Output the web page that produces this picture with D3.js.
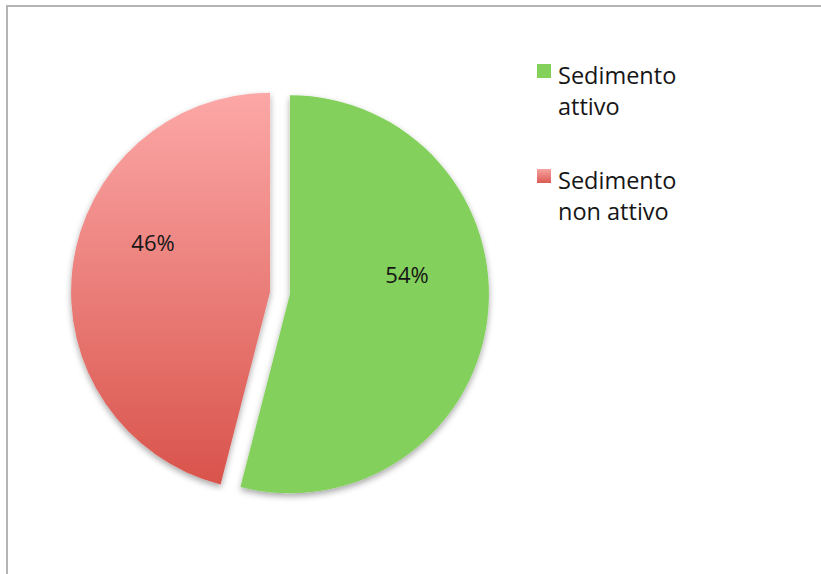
<!DOCTYPE html>
<html>
<head>
<meta charset="utf-8">
<script src="https://cdn.jsdelivr.net/npm/d3@7"></script>
<style>
  html, body { margin: 0; padding: 0; background: #fff; }
  svg { display: block; }
  text { font-family: "Open Sans", "Lato", sans-serif; fill: #161616; }
</style>
</head>
<body>
<svg id="chart" width="821" height="574"></svg>
<script>
// Data
const categories = ["Sedimento attivo", "Sedimento non attivo"];
const legendLines = [["Sedimento", "attivo"], ["Sedimento", "non attivo"]];
const values = [54, 46];
const valueLabels = ["54%", "46%"];

const W = 821, H = 574;
const svg = d3.select("#chart");
const defs = svg.append("defs");

// Frame
svg.append("path")
  .attr("d", `M7,${H} L7,6 L${W},6`)
  .attr("fill", "none")
  .attr("stroke", "#b4b4b4")
  .attr("stroke-width", 2);

// Shading under the slices
const shadow = defs.append("filter").attr("id", "shadow")
  .attr("x", "-20%").attr("y", "-20%").attr("width", "140%").attr("height", "140%");
shadow.append("feDropShadow")
  .attr("dx", 0).attr("dy", 3).attr("stdDeviation", 3)
  .attr("flood-color", "#000").attr("flood-opacity", 0.35);

const cx = 280, cy = 293, r = 199, explode = 10;

// Vertical gradient in the slice group's own coordinates
const redGrad = defs.append("linearGradient").attr("id", "redGrad")
  .attr("gradientUnits", "userSpaceOnUse")
  .attr("x1", 0).attr("y1", -r).attr("x2", 0).attr("y2", r);
redGrad.append("stop").attr("offset", "0%").attr("stop-color", "#fca8a7");
redGrad.append("stop").attr("offset", "100%").attr("stop-color", "#d8524a");

const legRed = defs.append("linearGradient").attr("id", "legRed")
  .attr("x1", 0).attr("y1", 0).attr("x2", 0).attr("y2", 1);
legRed.append("stop").attr("offset", "0%").attr("stop-color", "#f6a3a1");
legRed.append("stop").attr("offset", "100%").attr("stop-color", "#dc5a52");

const fills = ["#83d15b", "url(#redGrad)"];
const legendFills = ["#83d15b", "url(#legRed)"];

const pie = d3.pie().sort(null).value(d => d);
const arcs = pie(values);
const arc = d3.arc().innerRadius(0).outerRadius(r);
const labelR = 118, labelLift = 34;
const labelArc = d3.arc().innerRadius(labelR).outerRadius(labelR);

const offset = d => {
  const a = (d.startAngle + d.endAngle) / 2;
  return [explode * Math.sin(a), -explode * Math.cos(a)];
};

const slices = svg.append("g").attr("transform", `translate(${cx},${cy})`);

slices.selectAll("path.slice")
  .data(arcs)
  .join("path")
  .attr("class", "slice")
  .attr("d", arc)
  .attr("fill", (d, i) => fills[i])
  .attr("filter", "url(#shadow)")
  .attr("transform", d => `translate(${offset(d)})`);

slices.selectAll("text.val")
  .data(arcs)
  .join("text")
  .attr("class", "val")
  .attr("transform", d => {
    const [x, y] = labelArc.centroid(d);
    const [ox, oy] = offset(d);
    return `translate(${x + ox},${y + oy - labelLift})`;
  })
  .attr("text-anchor", "middle")
  .attr("dy", "0.36em")
  .attr("font-size", 22)
  .text((d, i) => valueLabels[i]);

// Legend
const legend = svg.append("g").attr("transform", "translate(537,64)");
const item = legend.selectAll("g.item")
  .data(categories)
  .join("g")
  .attr("class", "item")
  .attr("transform", (d, i) => `translate(0,${i * 105})`);

item.append("rect")
  .attr("width", 14).attr("height", 14)
  .attr("fill", (d, i) => legendFills[i]);

item.append("text")
  .attr("x", 21)
  .attr("y", 20)
  .attr("font-size", 23.5)
  .selectAll("tspan")
  .data((d, i) => legendLines[i])
  .join("tspan")
  .attr("x", 21)
  .attr("dy", (d, j) => j === 0 ? 0 : 31)
  .text(d => d);
</script>
</body>
</html>
